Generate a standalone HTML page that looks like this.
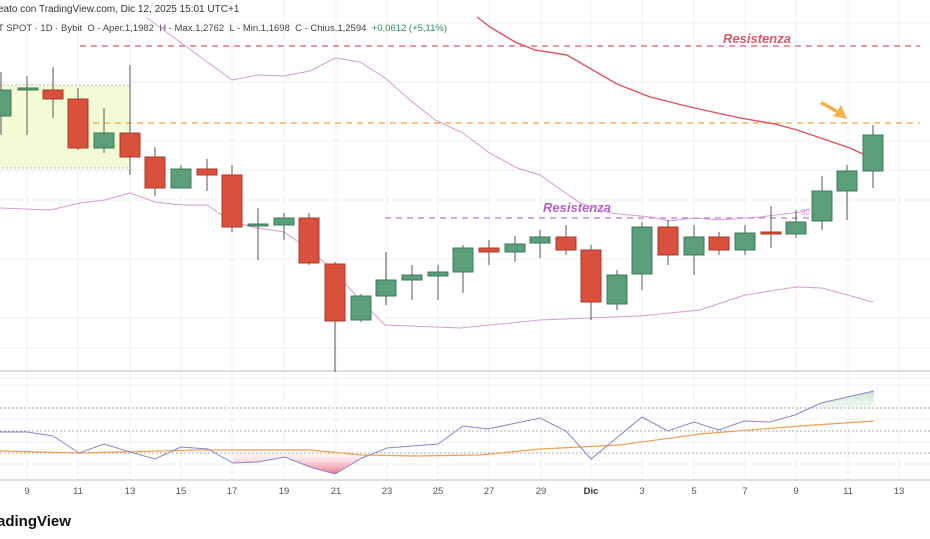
<!DOCTYPE html>
<html><head><meta charset="utf-8"><style>
html,body{margin:0;padding:0;background:#fff;}
svg{display:block;font-family:"Liberation Sans",sans-serif;}
text{white-space:pre;}
</style></head><body>
<svg width="930" height="539" viewBox="0 0 930 539" xmlns="http://www.w3.org/2000/svg">
<rect width="930" height="539" fill="#fff"/>
<g stroke="#f1f2f5" stroke-width="1">
<line x1="27" y1="0" x2="27" y2="480"/><line x1="78" y1="0" x2="78" y2="480"/><line x1="130" y1="0" x2="130" y2="480"/><line x1="181" y1="0" x2="181" y2="480"/><line x1="232" y1="0" x2="232" y2="480"/><line x1="284" y1="0" x2="284" y2="480"/><line x1="336" y1="0" x2="336" y2="480"/><line x1="387" y1="0" x2="387" y2="480"/><line x1="438" y1="0" x2="438" y2="480"/><line x1="489" y1="0" x2="489" y2="480"/><line x1="541" y1="0" x2="541" y2="480"/><line x1="591" y1="0" x2="591" y2="480"/><line x1="642" y1="0" x2="642" y2="480"/><line x1="694" y1="0" x2="694" y2="480"/><line x1="745" y1="0" x2="745" y2="480"/><line x1="796" y1="0" x2="796" y2="480"/><line x1="848" y1="0" x2="848" y2="480"/><line x1="899" y1="0" x2="899" y2="480"/>
<line x1="0" y1="23" x2="930" y2="23"/><line x1="0" y1="82" x2="930" y2="82"/><line x1="0" y1="141" x2="930" y2="141"/><line x1="0" y1="170" x2="930" y2="170"/><line x1="0" y1="200" x2="930" y2="200"/><line x1="0" y1="259" x2="930" y2="259"/><line x1="0" y1="318" x2="930" y2="318"/><line x1="0" y1="348" x2="930" y2="348"/>
<line x1="0" y1="378" x2="930" y2="378"/><line x1="0" y1="385" x2="930" y2="385"/><line x1="0" y1="419" x2="930" y2="419"/><line x1="0" y1="442" x2="930" y2="442"/><line x1="0" y1="464" x2="930" y2="464"/>
</g>
<line x1="0" y1="371" x2="930" y2="371" stroke="#c8cbd2" stroke-width="1.2"/>
<line x1="0" y1="480" x2="930" y2="480" stroke="#c8cbd2" stroke-width="1.2"/>
<text x="-2" y="12" font-size="10" fill="#333">eato con TradingView.com, Dic 12, 2025 15:01 UTC+1</text>
<text x="-2" y="31" font-size="9.5" fill="#444">T SPOT · 1D · Bybit  O - Aper.1,1982  H - Max.1,2762  L - Min.1,1698  C - Chius.1,2594  <tspan fill="#2e8b57">+0,0612 (+5,11%)</tspan></text>
<rect x="-1" y="85" width="131" height="83" fill="#f3fbd5" stroke="#9ab" stroke-dasharray="2,2" stroke-width="0.8"/>
<line x1="80" y1="46" x2="920" y2="46" stroke="#e05a6a" stroke-width="1.3" stroke-dasharray="6,5"/>
<line x1="93" y1="123" x2="920" y2="123" stroke="#f2a23c" stroke-width="1.3" stroke-dasharray="6,5"/>
<line x1="385" y1="218" x2="812" y2="218" stroke="#b57bd0" stroke-width="1.3" stroke-dasharray="6,5"/>
<text x="723" y="43" font-size="13" font-style="italic" font-weight="bold" fill="#e0556a">Resistenza</text>
<text x="543" y="212" font-size="13" font-style="italic" font-weight="bold" fill="#b45fcf">Resistenza</text>
<text x="801" y="215" font-size="8" fill="#c9a0d8">50</text>
<polyline fill="none" stroke="#d79ad8" stroke-width="1" points="147,18 232,80 258,75 283,76 310,71 335,58 360,62 385,78 410,100 435,120 463,133 488,152 517,168 540,175 580,203 610,213 650,217 670,221 693,218 720,220 760,217 800,212 810,209"/>
<polyline fill="none" stroke="#d79ad8" stroke-width="1" points="0,208 50,210 80,203 105,200 130,193 155,202 181,205 207,205 232,222 258,228 284,232 310,250 335,272 360,300 385,325 460,328 540,320 640,316 700,310 745,295 796,287 822,288 873,302"/>
<polyline fill="none" stroke="#e0505e" stroke-width="1.4" points="477,17 490,27 515,42 535,50 567,55 617,84 650,97 690,107 740,118 775,124 797,130 850,148 863,154"/>
<polygon points="822,101 838,110 841,105 847,119 833,116 836,113 820,104" fill="#f5b04a"/>
<g stroke-width="1">
<g stroke="#555"><line x1="1" y1="72" x2="1" y2="135"/><line x1="27" y1="76" x2="27" y2="135"/><line x1="53" y1="67" x2="53" y2="118"/><line x1="78" y1="88" x2="78" y2="150"/><line x1="104" y1="108" x2="104" y2="153"/><line x1="130" y1="65" x2="130" y2="175"/><line x1="155" y1="147" x2="155" y2="196"/><line x1="181" y1="165" x2="181" y2="188"/><line x1="207" y1="159" x2="207" y2="191"/><line x1="232" y1="165" x2="232" y2="232"/><line x1="258" y1="208" x2="258" y2="260"/><line x1="284" y1="213" x2="284" y2="240"/><line x1="309" y1="213" x2="309" y2="265"/><line x1="335" y1="262" x2="335" y2="372"/><line x1="361" y1="294" x2="361" y2="322"/><line x1="386" y1="252" x2="386" y2="305"/><line x1="412" y1="265" x2="412" y2="300"/><line x1="438" y1="265" x2="438" y2="300"/><line x1="463" y1="245" x2="463" y2="293"/><line x1="489" y1="240" x2="489" y2="265"/><line x1="515" y1="236" x2="515" y2="262"/><line x1="540" y1="230" x2="540" y2="258"/><line x1="566" y1="225" x2="566" y2="255"/><line x1="591" y1="245" x2="591" y2="320"/><line x1="617" y1="270" x2="617" y2="310"/><line x1="642" y1="222" x2="642" y2="290"/><line x1="668" y1="220" x2="668" y2="265"/><line x1="694" y1="225" x2="694" y2="275"/><line x1="719" y1="232" x2="719" y2="255"/><line x1="745" y1="225" x2="745" y2="255"/><line x1="771" y1="206" x2="771" y2="248"/><line x1="796" y1="210" x2="796" y2="238"/><line x1="822" y1="176" x2="822" y2="230"/><line x1="847" y1="165" x2="847" y2="220"/><line x1="873" y1="125" x2="873" y2="188"/></g>
<g fill="#5b9e7a" stroke="#3f7a5a"><rect x="-9" y="90" width="20" height="26"/><rect x="18" y="88" width="20" height="2"/><rect x="94" y="133" width="20" height="15"/><rect x="171" y="169" width="20" height="19"/><rect x="274" y="218" width="20" height="7"/><rect x="351" y="296" width="20" height="24"/><rect x="376" y="280" width="20" height="16"/><rect x="402" y="275" width="20" height="5"/><rect x="428" y="272" width="20" height="4"/><rect x="453" y="248" width="20" height="24"/><rect x="505" y="244" width="20" height="8"/><rect x="530" y="237" width="20" height="6"/><rect x="607" y="275" width="20" height="29"/><rect x="632" y="227" width="20" height="47"/><rect x="684" y="237" width="20" height="18"/><rect x="735" y="233" width="20" height="17"/><rect x="786" y="222" width="20" height="12"/><rect x="812" y="191" width="20" height="30"/><rect x="837" y="171" width="20" height="20"/><rect x="863" y="135" width="20" height="36"/><rect x="248" y="224" width="20" height="2"/></g>
<g fill="#d9503c" stroke="#a83a2a"><rect x="43" y="90" width="20" height="9"/><rect x="68" y="99" width="20" height="49"/><rect x="120" y="133" width="20" height="24"/><rect x="145" y="157" width="20" height="31"/><rect x="197" y="169" width="20" height="6"/><rect x="222" y="175" width="20" height="52"/><rect x="299" y="218" width="20" height="45"/><rect x="325" y="264" width="20" height="57"/><rect x="479" y="248" width="20" height="4"/><rect x="556" y="237" width="20" height="13"/><rect x="581" y="250" width="20" height="52"/><rect x="658" y="227" width="20" height="28"/><rect x="709" y="237" width="20" height="13"/><rect x="761" y="232" width="20" height="2"/></g>
</g>
<g stroke="#aaa" stroke-dasharray="2,2" stroke-width="1"><line x1="0" y1="408" x2="930" y2="408"/><line x1="0" y1="431" x2="930" y2="431"/><line x1="0" y1="453" x2="930" y2="453"/></g>
<defs><linearGradient id="gg" x1="0" y1="0" x2="0" y2="1"><stop offset="0" stop-color="#9cc9a6" stop-opacity="0.8"/><stop offset="1" stop-color="#e8f3ea" stop-opacity="0.2"/></linearGradient>
<linearGradient id="rg" x1="0" y1="1" x2="0" y2="0"><stop offset="0" stop-color="#e8506a"/><stop offset="1" stop-color="#fbe2e8" stop-opacity="0.3"/></linearGradient></defs>
<polygon points="795,415 821,403 874,391 874,408 795,408" fill="url(#gg)" opacity="0.7"/>
<polygon points="233,463 258,462 285,457 310,467 335,474 362,458 362,453 233,453" fill="url(#rg)" opacity="0.8"/>
<polyline fill="none" stroke="#f0a050" stroke-width="1.2" points="0,451 79,453 200,450 310,450 362,455 415,456 480,455 540,449 620,445 700,434 800,426 874,421"/>
<polyline fill="none" stroke="#8a86c8" stroke-width="1" points="0,432 27,432 53,436 79,453 104,444 130,452 155,459 181,447 208,449 233,463 258,462 285,457 310,467 335,474 362,458 387,448 438,444 463,426 488,429 540,418 566,431 591,459 642,417 668,431 694,422 719,430 744,421 770,422 795,415 821,403 874,391"/>
<g font-size="9.5" fill="#555" text-anchor="middle">
<text x="27" y="494">9</text><text x="78" y="494">11</text><text x="130" y="494">13</text><text x="181" y="494">15</text><text x="232" y="494">17</text><text x="284" y="494">19</text><text x="336" y="494">21</text><text x="387" y="494">23</text><text x="438" y="494">25</text><text x="489" y="494">27</text><text x="541" y="494">29</text><text x="591" y="494" font-weight="bold" fill="#333">Dic</text><text x="642" y="494">3</text><text x="694" y="494">5</text><text x="745" y="494">7</text><text x="796" y="494">9</text><text x="848" y="494">11</text><text x="899" y="494">13</text>
</g>
<text x="-3" y="526" font-size="15" font-weight="bold" fill="#111">adingView</text>
</svg>
</body></html>
